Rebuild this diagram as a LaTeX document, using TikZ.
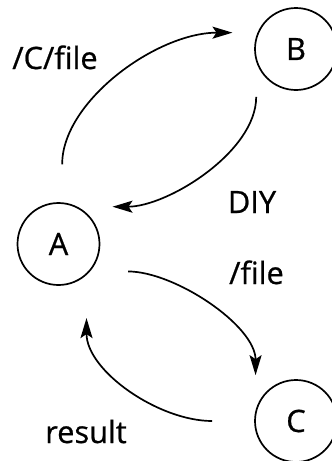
\documentclass[tikz,border=0pt]{standalone}
\usepackage{fontspec}
\setmainfont{Open Sans}[FakeBold=0.7]
\usetikzlibrary{arrows.meta}
\tikzstyle{state} = [draw, circle, line width=0.85pt, inner sep=0pt, minimum size=41pt]
\tikzstyle{tag} = [inner sep=0pt, anchor=base]
\tikzstyle{link} = [line width=0.85pt, -{Stealth[length=10pt, width=6pt, inset=2pt]}]

\begin{document}
\begin{tikzpicture}[x=0.5pt, y=-0.5pt, font=\fontsize{15.4}{18}\selectfont]
\useasboundingbox (0,0) rectangle (332,461);
\node (A) [state] at (58.5,244) {A};
\node (B) [state] at (296,49) {B};
\node (C) [state] at (296,421) {C};
\draw [link, shorten <=19pt, shorten >=12.5pt] (A.85) to[out=90, in=180] (B.157);
\draw [link, shorten <=17.5pt, shorten >=17.5pt] (B.198) to[out=270, in=0] (A.63);
\draw [link, shorten <=19pt, shorten >=17.5pt] (A.-41) to[out=0, in=90] (C.165);
\draw [link, shorten <=21pt, shorten >=21.5pt] (C.180) to[out=180, in=270, looseness=1.1] (A.-48);
\node (cfile) [tag] at (55,69) {/C/file};
\node (diy) [tag] at (252,213) {DIY};
\node (file) [tag] at (256.5,284) {/file};
\node (result) [tag] at (86,443) {result};
\end{tikzpicture}
\end{document}
